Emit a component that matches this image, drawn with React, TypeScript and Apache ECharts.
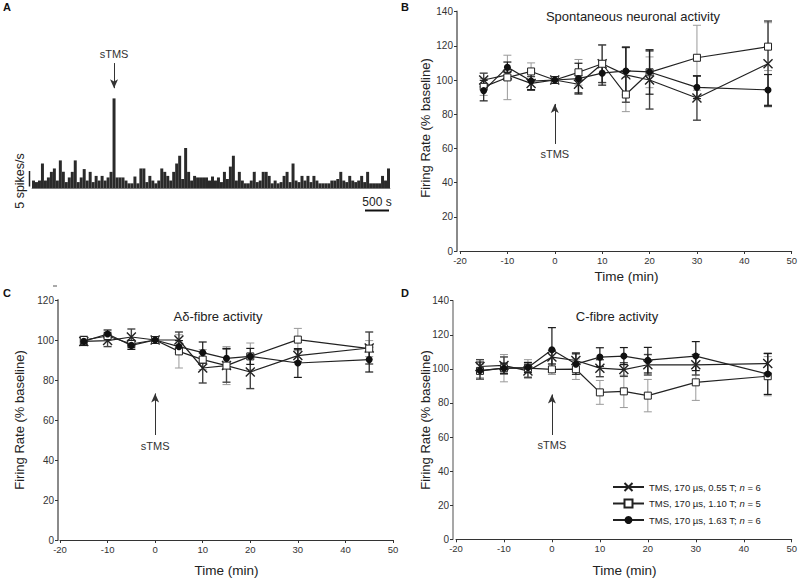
import React, { useEffect, useRef } from "react";
import * as echarts from "echarts";

const FONT = '"Liberation Sans", Arial, Helvetica, sans-serif';

// Time points (min) for panels B, C, D
const times = [-15, -10, -5, 0, 5, 10, 15, 20, 30, 45];
const seriesNames = [
  "TMS, 170 µs, 0.55 T; n = 6",
  "TMS, 170 µs, 1.10 T; n = 5",
  "TMS, 170 µs, 1.63 T; n = 6",
];
const xName = "Time (min)";
const yName = "Firing Rate (% baseline)";

// Panel B: spontaneous neuronal activity (% baseline)
const spontCross = [100, 103, 98, 100, 97.5, 109.5, 103, 100, 89.5, 109.5];
const spontCrossErr = [4, 3, 4, 0, 5, 11, 16, 17, 13, 25];
const spontSquare = [96, 101.5, 105, 100, 104.5, 109.5, 91.5, 104.5, 113, 119.5];
const spontSquareErr = [5, 13, 5, 0, 7.5, 11, 10, 9, 19, 14];
const spontCircle = [93.8, 107.5, 99.4, 100, 100.8, 104, 105.3, 104.7, 95.7, 94.2];
const spontCircleErr = [6, 3, 5, 0, 9, 7, 14, 13, 6.6, 9];

// Panel C: A-delta fibre activity
const adCross = [99.3, 99.7, 101.5, 100, 100, 86, 87.2, 84, 92.2, 96];
const adCrossErr = [2, 3, 4, 0, 4, 7.5, 8.3, 8.3, 3, 8];
const adSquare = [100, 102, 98, 100, 94.3, 90.2, 87.2, 91.8, 100.2, 95.7];
const adSquareErr = [2, 2, 2, 0, 8.3, 5, 9.5, 6.7, 5.6, 4];
const adCircle = [99.3, 103, 97.3, 100, 96.7, 93.7, 90.8, 91.8, 88.5, 90.2];
const adCircleErr = [2, 2, 2, 0, 3, 5.3, 5, 4, 7.2, 6.2];

// Panel D: C-fibre activity
const cCross = [101.4, 102, 98.8, 106.9, 104.9, 100.4, 99.6, 102.4, 102.4, 103.1];
const cCrossErr = [4, 5, 4, 4, 4.5, 5, 4, 6, 6, 6];
const cSquare = [98.8, 100.4, 100.4, 99.7, 99.8, 86.2, 86.8, 84.3, 92.1, 95.7];
const cSquareErr = [4, 8, 5, 3, 6, 7, 9.5, 9.5, 10.6, 11.5];
const cCircle = [99, 100.4, 100.8, 111.2, 102.8, 106.9, 107.5, 105.1, 107.5, 97];
const cCircleErr = [5, 3, 3, 13, 6, 5.5, 5, 7.5, 8.5, 12];

// Panel A: firing-rate histogram (spikes/s per bin)
const histogram = [
  2.5, 2, 2.5, 8, 2.5, 3.5, 5.3, 6.4, 2.5, 9,
  5.3, 2, 3.5, 5.3, 9, 2, 3.5, 6.2, 2.5, 5.3,
  2, 4, 2.5, 4, 2.5, 3.5, 5.3, 29, 3.5, 3.5,
  3.5, 2.5, 1.6, 1.6, 3.8, 1.6, 6.4, 6.4, 2, 4,
  2.5, 1.6, 2.5, 6.4, 5.3, 4, 2.5, 5.3, 8, 10.5,
  3, 13, 5.3, 2.5, 4, 3.5, 3.5, 3.5, 3.5, 2.5,
  3.8, 2.5, 3.5, 2, 5.3, 3, 7, 10.5, 2.5, 5.3,
  2.5, 1.6, 1.6, 2.5, 5.3, 2, 2.5, 5.3, 5.3, 4,
  1.6, 2.5, 1.6, 2, 4, 5.3, 2, 8, 2.5, 2,
  4, 2.5, 4, 2, 4, 2.5, 1.6, 1.6, 1.6, 1.6,
  2.5, 2.5, 3, 5.3, 2.5, 2, 4, 2.5, 2, 2.5,
  4, 2, 5.3, 1.6, 1.6, 1.6, 1.6, 4, 2.5, 6.4,
];
const histBins = histogram.map((_, i) => String(i));
const stimBin = 27;

const crossSymbol = "path://M0,0L10,10M10,0L0,10";

function xAxisFor(gridIndex: number) {
  return {
    type: "value",
    gridIndex,
    min: -20,
    max: 50,
    interval: 10,
    axisLine: { show: true, onZero: false, lineStyle: { color: "#333", width: 1 } },
    axisTick: { show: true, length: 3, lineStyle: { color: "#333" } },
    axisLabel: { fontSize: 9.5, color: "#333", margin: 4, fontFamily: FONT },
    splitLine: { show: false },
  };
}

function yAxisFor(gridIndex: number, max: number, offset: number, lineW: number) {
  return {
    type: "value",
    gridIndex,
    min: 0,
    max,
    interval: 20,
    offset,
    axisLine: { show: true, onZero: false, lineStyle: { color: "#8a8a8a", width: lineW } },
    axisTick: { show: true, length: 3, lineStyle: { color: "#333" } },
    axisLabel: { fontSize: 10, color: "#333", margin: 4, fontFamily: FONT },
    splitLine: { show: false },
  };
}

function errorSeries(axis: number, vals: number[], errs: number[], color: string, width: number, z: number) {
  return {
    type: "custom",
    name: "err",
    xAxisIndex: axis,
    yAxisIndex: axis,
    silent: true,
    z,
    data: times.map((t, i) => [t, vals[i], errs[i]]),
    encode: { x: 0, y: 1 },
    renderItem: (params: any, api: any) => {
      const x = api.value(0);
      const y = api.value(1);
      const e = api.value(2);
      if (!e) return { type: "group", children: [] };
      const top = api.coord([x, y + e]);
      const bot = api.coord([x, y - e]);
      const w = 4;
      const style = { stroke: color, lineWidth: width };
      return {
        type: "group",
        children: [
          { type: "line", shape: { x1: top[0], y1: top[1], x2: bot[0], y2: bot[1] }, style },
          { type: "line", shape: { x1: top[0] - w, y1: top[1], x2: top[0] + w, y2: top[1] }, style },
          { type: "line", shape: { x1: bot[0] - w, y1: bot[1], x2: bot[0] + w, y2: bot[1] }, style },
        ],
      };
    },
  };
}

function arrowMark(from: number, to: number) {
  return {
    silent: true,
    symbol: ["none", "arrow"],
    symbolSize: [6, 9],
    lineStyle: { color: "#333", width: 1, type: "solid" },
    label: { show: true, position: "start", formatter: "sTMS", fontSize: 11, color: "#333", fontFamily: FONT, distance: 5 },
    emphasis: { disabled: true },
    data: [[{ coord: [0, from] }, { coord: [0, to] }]],
  };
}

function panelSeries(axis: number, cross: number[], crossErr: number[], sq: number[], sqErr: number[], ci: number[], ciErr: number[], arrow: [number, number]) {
  const pts = (v: number[]) => times.map((t, i) => [t, v[i]]);
  return [
    errorSeries(axis, sq, sqErr, "#9a9a9a", 1, 2),
    errorSeries(axis, cross, crossErr, "#444", 1.4, 2),
    errorSeries(axis, ci, ciErr, "#1a1a1a", 1.2, 2),
    {
      type: "line",
      name: seriesNames[0],
      xAxisIndex: axis,
      yAxisIndex: axis,
      data: pts(cross),
      symbol: crossSymbol,
      symbolSize: 9,
      lineStyle: { color: "#222", width: 1.2 },
      itemStyle: { color: "#222", borderColor: "#222", borderWidth: 1.4 },
      z: 3,
    },
    {
      type: "line",
      name: seriesNames[1],
      xAxisIndex: axis,
      yAxisIndex: axis,
      data: pts(sq),
      symbol: "rect",
      symbolSize: 7,
      lineStyle: { color: "#222", width: 1.2 },
      itemStyle: { color: "#fff", borderColor: "#222", borderWidth: 1 },
      z: 4,
    },
    {
      type: "line",
      name: seriesNames[2],
      xAxisIndex: axis,
      yAxisIndex: axis,
      data: pts(ci),
      symbol: "circle",
      symbolSize: 7,
      lineStyle: { color: "#222", width: 1.2 },
      itemStyle: { color: "#111" },
      z: 5,
      markLine: arrowMark(arrow[0], arrow[1]),
    },
  ];
}

function panelLetter(text: string, x: number, y: number) {
  return { type: "text", left: x, top: y, style: { text, fontSize: 11, fontWeight: "bold", fill: "#111", fontFamily: FONT } };
}

function axisTitle(text: string, x: number, y: number, vertical: boolean, size: number) {
  return {
    type: "text",
    x,
    y,
    rotation: vertical ? Math.PI / 2 : 0,
    style: { text, fontSize: size, fontWeight: "normal", fill: "#222", fontFamily: FONT, align: "center", verticalAlign: "middle" },
  };
}

export default function App() {
  const ref = useRef<HTMLDivElement>(null);
  useEffect(() => {
    if (!ref.current) return;
    const chart = echarts.init(ref.current, undefined, { renderer: "svg" });
    const option: any = {
      animation: false,
      backgroundColor: "#fff",
      textStyle: { fontFamily: FONT },
      title: [
        { text: "Spontaneous neuronal activity", left: 628, top: 5, textAlign: "center", textStyle: { fontSize: 13, fontWeight: "normal", color: "#222", fontFamily: FONT } },
        { text: "Aδ-fibre activity", left: 213, top: 305, textAlign: "center", textStyle: { fontSize: 13, fontWeight: "normal", color: "#222", fontFamily: FONT } },
        { text: "C-fibre activity", left: 612, top: 305, textAlign: "center", textStyle: { fontSize: 13, fontWeight: "normal", color: "#222", fontFamily: FONT } },
      ],
      legend: {
        show: true,
        data: seriesNames,
        orient: "vertical",
        left: 607,
        top: 477,
        itemWidth: 31,
        itemHeight: 10,
        itemGap: 6.5,
        selectedMode: false,
        formatter: (n: string) => n.replace("n =", "{i|n} ="),
        textStyle: {
          fontSize: 9.5,
          color: "#222",
          fontFamily: FONT,
          rich: { i: { fontStyle: "italic", fontSize: 9.5, color: "#222", fontFamily: FONT } },
        },
      },
      grid: [
        { left: 32, width: 358, top: 39.5, height: 148.8, containLabel: false },
        { left: 460, right: 7, top: 11.6, height: 239.4, containLabel: false },
        { left: 60, width: 333, top: 300, height: 240, containLabel: false },
        { left: 456, right: 7, top: 300.7, height: 238.6, containLabel: false },
      ],
      xAxis: [
        {
          type: "category",
          gridIndex: 0,
          data: histBins,
          axisLine: { show: true, lineStyle: { color: "#999", width: 1 } },
          axisTick: { show: false },
          axisLabel: { show: false },
          splitLine: { show: false },
        },
        xAxisFor(1),
        xAxisFor(2),
        xAxisFor(3),
      ],
      yAxis: [
        { type: "value", gridIndex: 0, min: 0, max: 48, show: false, splitLine: { show: false } },
        yAxisFor(1, 140, 3, 2),
        yAxisFor(2, 120, 2, 2),
        yAxisFor(3, 140, 3, 1.5),
      ],
      series: [
        {
          type: "bar",
          name: "hist",
          xAxisIndex: 0,
          yAxisIndex: 0,
          data: histogram,
          barCategoryGap: "0%",
          itemStyle: { color: "#2a2a2a" },
          silent: true,
          markLine: {
            silent: true,
            symbol: ["none", "arrow"],
            symbolSize: [6, 9],
            lineStyle: { color: "#333", width: 1, type: "solid" },
            label: { show: true, position: "start", formatter: "sTMS", fontSize: 11, color: "#333", fontFamily: FONT, distance: 4 },
            data: [[{ coord: [stimBin, 40.4] }, { coord: [stimBin, 32.3] }]],
          },
        },
        ...panelSeries(1, spontCross, spontCrossErr, spontSquare, spontSquareErr, spontCircle, spontCircleErr, [62.6, 86]),
        ...panelSeries(2, adCross, adCrossErr, adSquare, adSquareErr, adCircle, adCircleErr, [52.5, 73.3]),
        ...panelSeries(3, cCross, cCrossErr, cSquare, cSquareErr, cCircle, cCircleErr, [61.2, 85]),
      ],
      graphic: [
        panelLetter("A", 3, 1),
        panelLetter("B", 401, 1),
        panelLetter("C", 3, 287),
        panelLetter("D", 401, 287),
        axisTitle(xName, 626.5, 276, false, 13.5),
        axisTitle(xName, 226.5, 570, false, 13.5),
        axisTitle(xName, 624.5, 570, false, 13.5),
        axisTitle(yName, 425, 128, true, 13),
        axisTitle(yName, 19, 420, true, 13),
        axisTitle(yName, 425, 420, true, 13),
        // scale bars for panel A
        { type: "line", shape: { x1: 29.5, y1: 171, x2: 29.5, y2: 186.5 }, style: { stroke: "#222", lineWidth: 1.5 } },
        { type: "text", x: 20, y: 181, rotation: Math.PI / 2, style: { text: "5 spikes/s", fontSize: 12.5, fill: "#222", fontFamily: FONT, align: "center", verticalAlign: "middle" } },
        { type: "line", shape: { x1: 365, y1: 210.5, x2: 389, y2: 210.5 }, style: { stroke: "#111", lineWidth: 2 } },
        { type: "text", x: 377, y: 201.5, style: { text: "500 s", fontSize: 12, fill: "#222", fontFamily: FONT, align: "center", verticalAlign: "middle" } },
        { type: "line", shape: { x1: 53, y1: 286, x2: 57, y2: 286 }, style: { stroke: "#555", lineWidth: 1 } },
      ],
    };
    chart.setOption(option);
    return () => chart.dispose();
  }, []);
  return <div ref={ref} style={{ position: "absolute", left: 0, top: 0, width: 800, height: 579 }} />;
}
